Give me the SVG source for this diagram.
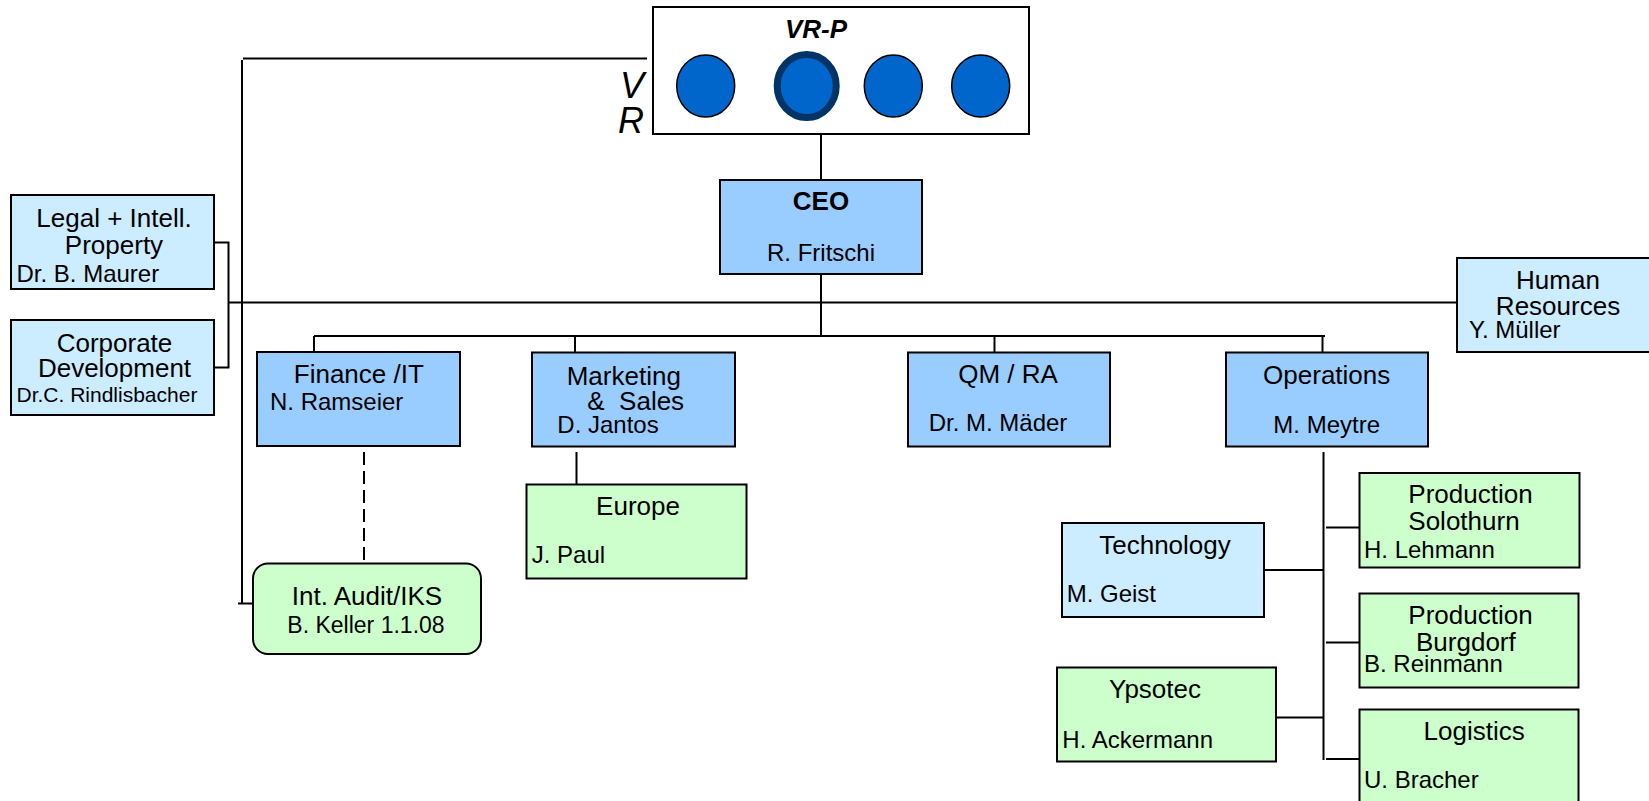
<svg xmlns="http://www.w3.org/2000/svg" width="1649" height="801" viewBox="0 0 1649 801">
<style>
text{font-family:"Liberation Sans",Arial,sans-serif;fill:#000}
.t{font-size:26px}
.n{font-size:24px}
.m{text-anchor:middle}
.box{stroke:#000;stroke-width:2}
.dept{fill:#99CCFF}
.staff{fill:#CCECFF}
.green{fill:#CCFFCC}
.ln{stroke:#000;stroke-width:2;fill:none}
.dot{fill:#0066CC;stroke:#000;stroke-width:1.5}
</style>
<rect width="1649" height="801" fill="#fff"/>
<g id="connectors">
<polyline class="ln" points="647,58.5 243,58.5"/>
<line class="ln" x1="242" y1="60" x2="242" y2="603.5"/>
<line class="ln" x1="238" y1="603.5" x2="253" y2="603.5"/>
<line class="ln" x1="821" y1="134" x2="821" y2="180"/>
<line class="ln" x1="821" y1="274" x2="821" y2="336"/>
<polyline class="ln" points="214,242.5 228.5,242.5 228.5,367.5 214,367.5"/>
<line class="ln" x1="228.5" y1="302.5" x2="1457" y2="302.5"/>
<line class="ln" x1="314" y1="336" x2="1325" y2="336"/>
<line class="ln" x1="314" y1="336" x2="314" y2="352"/>
<line class="ln" x1="575" y1="336" x2="575" y2="352"/>
<line class="ln" x1="994.5" y1="336" x2="994.5" y2="352"/>
<line class="ln" x1="1322.5" y1="336" x2="1322.5" y2="352"/>
<line class="ln" x1="364" y1="452" x2="364" y2="563" stroke-dasharray="13,6"/>
<line class="ln" x1="576.5" y1="452" x2="576.5" y2="484"/>
<line class="ln" x1="1323.5" y1="452" x2="1323.5" y2="760"/>
<line class="ln" x1="1326" y1="527.5" x2="1359" y2="527.5"/>
<line class="ln" x1="1326" y1="642.5" x2="1359" y2="642.5"/>
<line class="ln" x1="1326" y1="759" x2="1359" y2="759"/>
<line class="ln" x1="1264" y1="570" x2="1323.5" y2="570"/>
<line class="ln" x1="1272" y1="717.5" x2="1323.5" y2="717.5"/>
</g>
<g id="vr">
<rect class="box" x="653" y="7" width="376" height="127" fill="#fff"/>
<text x="816" y="38" style="font-size:26px;font-weight:bold;font-style:italic" class="m">VR-P</text>
<text x="644" y="98" style="font-size:36px;font-style:italic;text-anchor:end">V</text>
<text x="644" y="133" style="font-size:36px;font-style:italic;text-anchor:end">R</text>
<ellipse class="dot" cx="705.7" cy="86" rx="29" ry="31"/>
<ellipse cx="806.7" cy="86" rx="29.5" ry="31.5" fill="#0066CC" stroke="#003366" stroke-width="7"/>
<ellipse class="dot" cx="893.3" cy="86" rx="29" ry="31"/>
<ellipse class="dot" cx="980.7" cy="86" rx="29" ry="31"/>
</g>
<g id="ceo">
<rect class="box dept" x="720" y="180" width="202" height="94"/>
<text x="821" y="210" class="t m" style="font-weight:bold">CEO</text>
<text x="821" y="260.5" class="n m">R. Fritschi</text>
</g>
<g id="legal">
<rect class="box staff" x="11" y="195" width="203" height="94"/>
<text x="114" y="226.5" class="t m">Legal + Intell.</text>
<text x="114" y="254" class="t m">Property</text>
<text x="16.5" y="281.5" class="n">Dr. B. Maurer</text>
</g>
<g id="corporate">
<rect class="box staff" x="11" y="320" width="203" height="95"/>
<text x="114.5" y="351.5" class="t m">Corporate</text>
<text x="114.5" y="376.5" class="t m">Development</text>
<text x="16.5" y="401.5" style="font-size:21px">Dr.C. Rindlisbacher</text>
</g>
<g id="hr">
<rect class="box staff" x="1457" y="258" width="194" height="94"/>
<text x="1558" y="289" class="t m">Human</text>
<text x="1558" y="315" class="t m">Resources</text>
<text x="1469" y="338" class="n">Y. Müller</text>
</g>
<g id="finance">
<rect class="box dept" x="257" y="352" width="203" height="94"/>
<text x="358.8" y="383.3" class="t m">Finance /IT</text>
<text x="270" y="410" class="n">N. Ramseier</text>
</g>
<g id="marketing">
<rect class="box dept" x="532" y="352.5" width="203" height="94"/>
<text x="566.7" y="385" class="t">Marketing</text>
<text x="587.3" y="410" class="t" style="white-space:pre" xml:space="preserve">&amp;  Sales</text>
<text x="557.3" y="433.3" class="n">D. Jantos</text>
</g>
<g id="qm">
<rect class="box dept" x="908" y="352.5" width="202" height="94"/>
<text x="1008" y="383.3" class="t m">QM / RA</text>
<text x="998" y="430.7" class="n m">Dr. M. Mäder</text>
</g>
<g id="operations">
<rect class="box dept" x="1226" y="352.5" width="202" height="94"/>
<text x="1326.7" y="384" class="t m">Operations</text>
<text x="1326.7" y="433.3" class="n m">M. Meytre</text>
</g>
<g id="europe">
<rect class="box green" x="526.5" y="484.5" width="220" height="94"/>
<text x="638" y="515" class="t m">Europe</text>
<text x="531.7" y="563.3" class="n">J. Paul</text>
</g>
<g id="audit">
<rect class="box green" x="253" y="563.5" width="228" height="90.5" rx="15" ry="15"/>
<text x="367" y="605" class="t m">Int. Audit/IKS</text>
<text x="366" y="633.3" class="m" style="font-size:23px">B. Keller 1.1.08</text>
</g>
<g id="technology">
<rect class="box staff" x="1062" y="523" width="202" height="94"/>
<text x="1165" y="554" class="t m">Technology</text>
<text x="1066.7" y="602.3" class="n">M. Geist</text>
</g>
<g id="ypsotec">
<rect class="box green" x="1057" y="667.5" width="219" height="94"/>
<text x="1155" y="698.3" class="t m">Ypsotec</text>
<text x="1062.3" y="747.7" class="n">H. Ackermann</text>
</g>
<g id="solothurn">
<rect class="box green" x="1359.5" y="473" width="220" height="94.5"/>
<text x="1408.3" y="503.3" class="t">Production</text>
<text x="1408.3" y="530" class="t">Solothurn</text>
<text x="1364" y="557.7" class="n">H. Lehmann</text>
</g>
<g id="burgdorf">
<rect class="box green" x="1359.5" y="593.5" width="219" height="94"/>
<text x="1408.3" y="624.3" class="t">Production</text>
<text x="1416" y="650.7" class="t">Burgdorf</text>
<text x="1364" y="672.3" class="n">B. Reinmann</text>
</g>
<g id="logistics">
<rect class="box green" x="1359.5" y="709.5" width="219" height="94"/>
<text x="1474.2" y="740" class="t m">Logistics</text>
<text x="1364" y="788.3" class="n">U. Bracher</text>
</g>
</svg>
